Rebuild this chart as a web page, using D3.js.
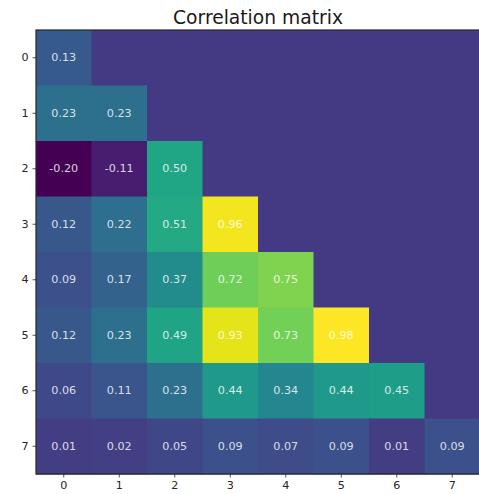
<!DOCTYPE html>
<html>
<head>
<meta charset="utf-8">
<script src="https://cdn.jsdelivr.net/npm/d3@7"></script>
<style>
  html, body { margin: 0; padding: 0; background: #fff; }
  svg { display: block; }
  text { font-family: "DejaVu Sans", sans-serif; }
</style>
</head>
<body>
<svg id="chart" width="479" height="494"></svg>
<script>
const labels = ["0", "1", "2", "3", "4", "5", "6", "7"];
const row0 = [0.13];
const row1 = [0.23, 0.23];
const row2 = [-0.20, -0.11, 0.50];
const row3 = [0.12, 0.22, 0.51, 0.96];
const row4 = [0.09, 0.17, 0.37, 0.72, 0.75];
const row5 = [0.12, 0.23, 0.49, 0.93, 0.73, 0.98];
const row6 = [0.06, 0.11, 0.23, 0.44, 0.34, 0.44, 0.45];
const row7 = [0.01, 0.02, 0.05, 0.09, 0.07, 0.09, 0.01, 0.09];
const rows = [row0, row1, row2, row3, row4, row5, row6, row7];
const maskedValue = 0;
const colorDomain = [-0.20, 0.98];
const title = "Correlation matrix";

(function () {
const svg = d3.select("#chart");
const mLeft = 36, mTop = 30, cell = 55.5;
const size = cell * labels.length;

const x = d3.scaleBand().domain(labels).range([mLeft, mLeft + size]);
const y = d3.scaleBand().domain(labels).range([mTop, mTop + size]);
const color = d3.scaleSequential(d3.interpolateViridis).domain(colorDomain);

const cells = [];
labels.forEach((ry, i) => {
  labels.forEach((cx, j) => {
    const v = j < rows[i].length ? rows[i][j] : null;
    cells.push({ r: ry, c: cx, v });
  });
});

svg.append("g").selectAll("rect").data(cells).join("rect")
  .attr("x", d => x(d.c))
  .attr("y", d => y(d.r))
  .attr("width", x.bandwidth() + 0.5)
  .attr("height", y.bandwidth() + 0.5)
  .attr("fill", d => color(d.v === null ? maskedValue : d.v));

svg.append("g").selectAll("text").data(cells.filter(d => d.v !== null)).join("text")
  .attr("x", d => x(d.c) + x.bandwidth() / 2)
  .attr("y", d => y(d.r) + y.bandwidth() / 2)
  .attr("text-anchor", "middle")
  .attr("dominant-baseline", "central")
  .attr("font-size", 11.2)
  .attr("fill", "#fff")
  .attr("fill-opacity", 0.82)
  .text(d => d3.format(".2f")(d.v).replace("−", "-"));

svg.append("rect")
  .attr("x", mLeft).attr("y", mTop)
  .attr("width", size).attr("height", size)
  .attr("fill", "none").attr("stroke", "#262626").attr("stroke-width", 1.2);

const xAxis = svg.append("g")
  .attr("transform", `translate(0,${mTop + size})`)
  .call(d3.axisBottom(x).tickSize(3.5).tickPadding(4));
const yAxis = svg.append("g")
  .attr("transform", `translate(${mLeft},0)`)
  .call(d3.axisLeft(y).tickSize(3.5).tickPadding(4));
[xAxis, yAxis].forEach(a => {
  a.select(".domain").remove();
  a.selectAll("line").attr("stroke", "#262626").attr("stroke-width", 0.8);
  a.selectAll("text").attr("font-size", 11.2).attr("fill", "#262626")
    .attr("font-family", "DejaVu Sans, sans-serif");
});

svg.append("text")
  .attr("x", mLeft + size / 2)
  .attr("y", 24)
  .attr("text-anchor", "middle")
  .attr("font-size", 18.7)
  .attr("fill", "#1a1a1a")
  .text(title);
})();
</script>
</body>
</html>
